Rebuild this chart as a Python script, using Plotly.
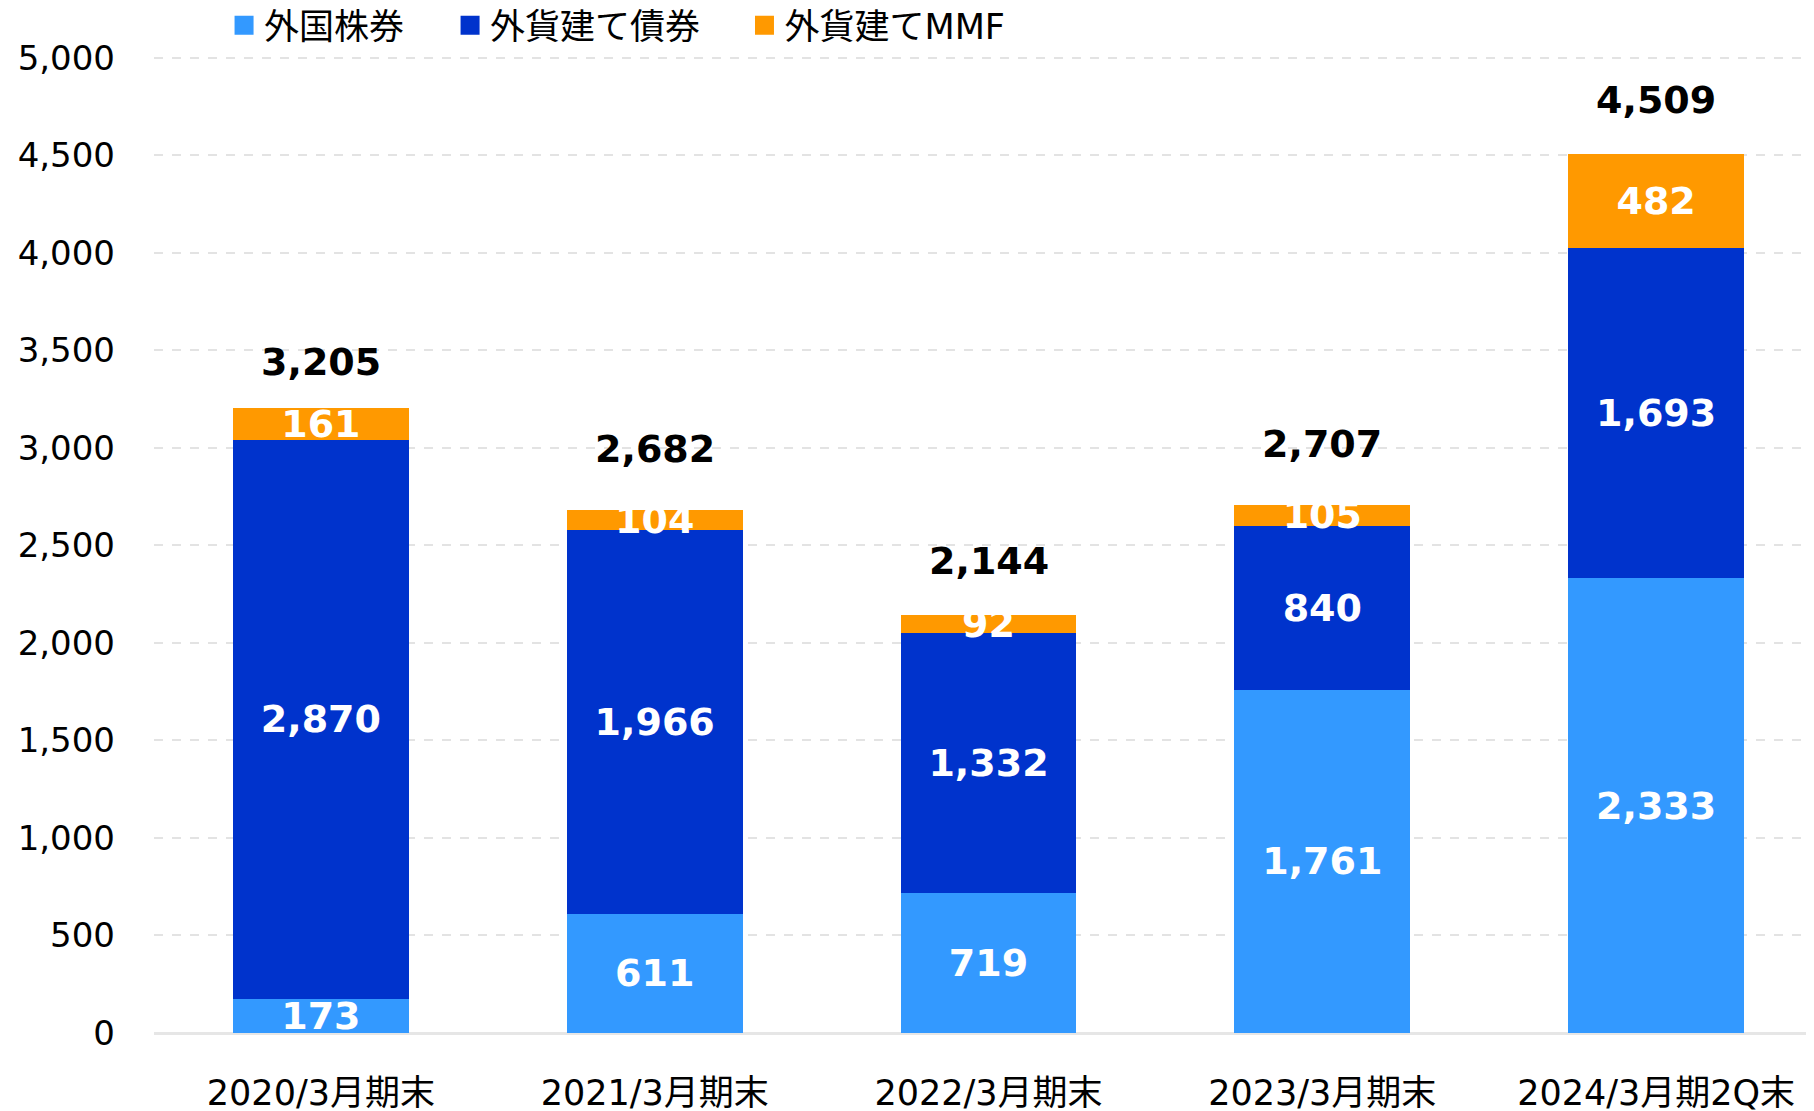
import plotly.graph_objects as go

categories = ["2020/3月期末", "2021/3月期末", "2022/3月期末", "2023/3月期末", "2024/3月期2Q末"]
foreign_stocks = [173, 611, 719, 1761, 2333]
fx_bonds = [2870, 1966, 1332, 840, 1693]
fx_mmf = [161, 104, 92, 105, 482]
totals = [3205, 2682, 2144, 2707, 4509]
series_names = ["外国株券", "外貨建て債券", "外貨建てMMF"]
colors = ["#3399FF", "#0033CC", "#FF9900"]
y_ticks = [0, 500, 1000, 1500, 2000, 2500, 3000, 3500, 4000, 4500, 5000]

# pixel offsets of the total labels above each bar (style, not data)
total_label_shift = [22, 37, 30, 37, 30]

FONT = "DejaVu Sans, Noto Sans CJK JP"
legend_ids = ["legend", "legend2", "legend3"]
legend_x = [0.042, 0.1775, 0.354]

fig = go.Figure()
for name, vals, col in zip(series_names, [foreign_stocks, fx_bonds, fx_mmf], colors):
    fig.add_trace(go.Bar(
        x=categories, y=vals, name=name, marker=dict(color=col, line=dict(width=0)),
        text=[f"{v:,}" for v in vals], textposition="inside", insidetextanchor="middle",
        textangle=0, constraintext="none", showlegend=False,
        textfont=dict(family=FONT, size=38, color="white", weight="bold"),
        cliponaxis=False,
    ))

# legend entries (one legend per series so spacing can match)
for name, col, lid in zip(series_names, colors, legend_ids):
    fig.add_trace(go.Scatter(
        x=[None], y=[None], mode="markers", name=name, legend=lid,
        marker=dict(symbol="square", size=16, color=col, line=dict(width=3, color=col)),
        showlegend=True,
    ))

for c, t, s in zip(categories, totals, total_label_shift):
    fig.add_annotation(x=c, y=t, text=f"<b>{t:,}</b>", showarrow=False,
                       yanchor="bottom", yshift=s,
                       font=dict(family=FONT, size=38, color="black"))

fig.add_annotation(xref="paper", yref="paper", x=0, y=1, xshift=-128, yshift=50,
                   xanchor="left", yanchor="bottom", text="(億円)", showarrow=False,
                   font=dict(family=FONT, size=33, color="black"))

legend_common = dict(orientation="h", xanchor="left", y=1.027, yanchor="middle",
                     font=dict(family=FONT, size=35, color="black"),
                     itemwidth=30, bgcolor="rgba(0,0,0,0)")

fig.update_layout(
    width=1814, height=1111,
    barmode="stack", bargap=0.473,
    paper_bgcolor="white", plot_bgcolor="white",
    margin=dict(l=146, r=0, t=44, b=86, autoexpand=False),
    font=dict(family=FONT, size=34, color="black"),
    uniformtext=dict(minsize=38, mode="show"),
    legend=dict(x=legend_x[0], **legend_common),
    legend2=dict(x=legend_x[1], **legend_common),
    legend3=dict(x=legend_x[2], **legend_common),
    xaxis=dict(range=[-0.5, 4.497], tickfont=dict(family=FONT, size=35), showgrid=False,
               showline=False, ticks="", ticklabelstandoff=36),
    yaxis=dict(range=[0, 5030], tickvals=y_ticks, tickformat=",d",
               showgrid=True, gridcolor="#E3E3E3", griddash="dash", gridwidth=2,
               zeroline=True, zerolinecolor="#E6E6E6", zerolinewidth=3,
               tickfont=dict(family=FONT, size=34), ticks="", ticklabelstandoff=38),
)

fig.write_html("out.html")
